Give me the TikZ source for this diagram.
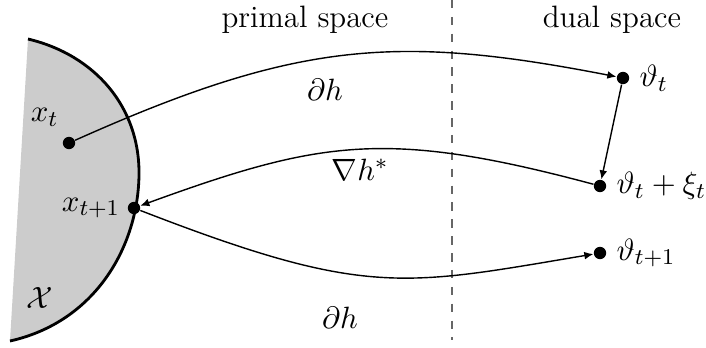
\documentclass[tikz,border=0pt]{standalone}
\usetikzlibrary{arrows.meta}
\begin{document}
\begin{tikzpicture}[x=0.0125cm,y=0.0125cm,
  font=\fontsize{11}{13}\selectfont,
  dot/.style={circle,fill=black,inner sep=0pt,minimum size=0.155cm},
  map/.style={-{Latex[length=3.2pt,width=2.8pt]},line width=0.5pt}]
\useasboundingbox (0,0) rectangle (706,347);
% the set X
\fill[gray!40] (28,308) .. controls (95,292) and (140,240) .. (139,172)
  .. controls (138,100) and (95,25) .. (10,6) -- cycle;
\draw[line width=1pt] (28,308) .. controls (95,292) and (140,240) .. (139,172)
  .. controls (138,100) and (95,25) .. (10,6);
\node at (40,49) {$\mathcal{X}$};
% primal / dual
\draw[gray!80!black,dashed,line width=0.6pt] (452,347) -- (452,7);
\node (primal) at (305,327) {primal space};
\node (dual) at (612,327) {dual space};
% points
\node[dot,label={[label distance=0pt]95:$x_t$}] (xt) at (69,204) {};
\node[dot,label={[label distance=-1pt]left:$x_{t+1}$}] (xt1) at (134,139) {};
\node[dot,label={[label distance=0pt]right:$\vartheta_t$}] (vt) at (623,269) {};
\node[dot,label={[label distance=0pt]right:$\vartheta_t+\xi_t$}] (vx) at (600,161) {};
\node[dot,label={[label distance=0pt]right:$\vartheta_{t+1}$}] (vt1) at (600,94) {};
% maps
\draw[map] (xt) .. controls (297,306) and (397,313) .. (vt);
\draw[map] (vt) -- (vx);
\draw[map] (vx) .. controls (387,218) and (321,207) .. (xt1);
\draw[map] (xt1) .. controls (366,49) and (403,61) .. (vt1);
\node (dh1) at (325,257) {$\partial h$};
\node (nh) at (360,177) {$\nabla h^*$};
\node (dh2) at (340,29) {$\partial h$};
\end{tikzpicture}
\end{document}
